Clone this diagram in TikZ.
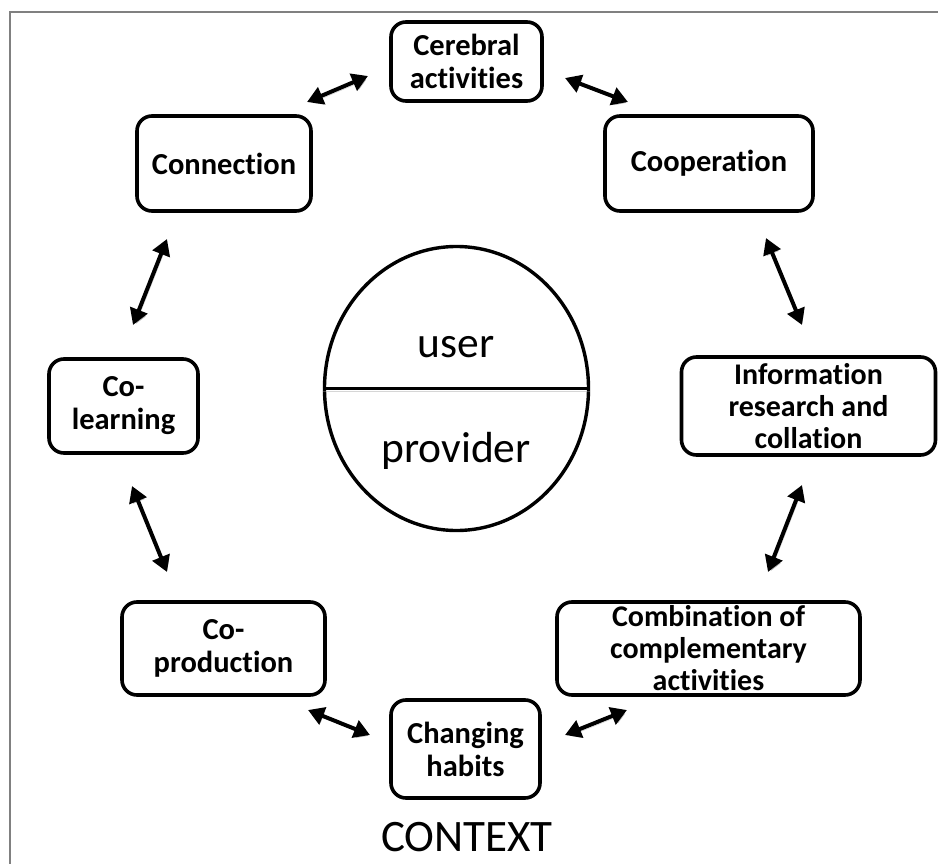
\documentclass[tikz,border=0pt]{standalone}
\usepackage{fontspec}
\setmainfont{Carlito}[Ligatures=NoCommon]
\usetikzlibrary{arrows.meta,shapes.geometric}

\tikzset{
  stage/.style={draw=black, line width=3.6pt, rounded corners=15pt, fill=white,
    align=center, inner sep=0pt, font=\bfseries\fontsize{30.5}{33}\selectfont,
    text=black},
  tight/.style={font=\bfseries\fontsize{30}{32}\selectfont},
  link/.style={line width=4pt, {Triangle[length=16pt,width=18pt]}-{Triangle[length=16pt,width=18pt]},
    preaction={draw=black!45, opacity=0.45,
      transform canvas={shift={(1.6pt,-2.2pt)}}}},
  frame/.style={draw=black!50, line width=2pt},
  bigword/.style={font=\fontsize{43.5}{50}\selectfont, anchor=base, inner sep=0pt},
}

\begin{document}
\begin{tikzpicture}[x=1pt,y=-1pt]
  \useasboundingbox (0,0) rectangle (938,864);
  \fill[white] (0,0) rectangle (938,864);

  % outer frame (left and top edges)
  \draw[frame] (10,864) -- (10,12) -- (938,12);

  % stages around the ring
  \node[stage, minimum width=151pt, minimum height=79pt]  (cereb)   at (466.5,61.5) {Cerebral\\activities};
  \node[stage, minimum width=174pt, minimum height=95pt]  (conn)    at (224,163.5)  {Connection};
  \node[stage, minimum width=208pt, minimum height=95pt]  (coop)    at (709,163.5)  {Cooperation};
  \node[stage, minimum width=149pt, minimum height=94pt]  (colearn) at (123.5,406)  {Co-\\learning};
  \node[stage, tight, minimum width=254pt, minimum height=98pt]  (info)    at (808.5,406)  {Information\\research and\\collation};
  \node[stage, minimum width=203pt, minimum height=93pt]  (coprod)  at (223.5,648.5){Co-\\production};
  \node[stage, tight, minimum width=303pt, minimum height=93pt]  (combo)   at (708.5,648.5){Combination of\\complementary\\activities};
  \node[stage, minimum width=149pt, minimum height=98pt]  (habits)  at (465.5,749)  {Changing\\habits};

  % central user / provider disc
  \node[draw=black, line width=3.4pt, ellipse, minimum width=264pt, minimum height=284pt,
        inner sep=0pt] (pair) at (456.5,388.5) {};
  \draw[line width=3.6pt, preaction={draw=black!40, opacity=0.4,
        transform canvas={shift={(0pt,-2.5pt)}}}] (pair.west) -- (pair.east);
  \node[bigword] (user) at (456,357) {user};
  \node[bigword] (prov) at (456,462) {provider};

  % arrow end points
  \coordinate (a1s) at (307,102);  \coordinate (a1e) at (368,76);
  \coordinate (a2s) at (565,78);   \coordinate (a2e) at (628,102);
  \coordinate (a3s) at (167,239);  \coordinate (a3e) at (133,325);
  \coordinate (a4s) at (766,238);  \coordinate (a4e) at (802,325);
  \coordinate (a5s) at (132,486);  \coordinate (a5e) at (167,572);
  \coordinate (a6s) at (802,485);  \coordinate (a6e) at (768,572);
  \coordinate (a7s) at (308,710);  \coordinate (a7e) at (370,735);
  \coordinate (a8s) at (627,710);  \coordinate (a8e) at (565,735);

  % two-way links between neighbouring stages
  \draw[link] (a1s) -- (a1e);
  \draw[link] (a2s) -- (a2e);
  \draw[link] (a3s) -- (a3e);
  \draw[link] (a4s) -- (a4e);
  \draw[link] (a5s) -- (a5e);
  \draw[link] (a6s) -- (a6e);
  \draw[link] (a7s) -- (a7e);
  \draw[link] (a8s) -- (a8e);

  \node[bigword, font=\fontsize{45}{52}\selectfont] (ctx) at (467,851) {CONTEXT};
\end{tikzpicture}
\end{document}
